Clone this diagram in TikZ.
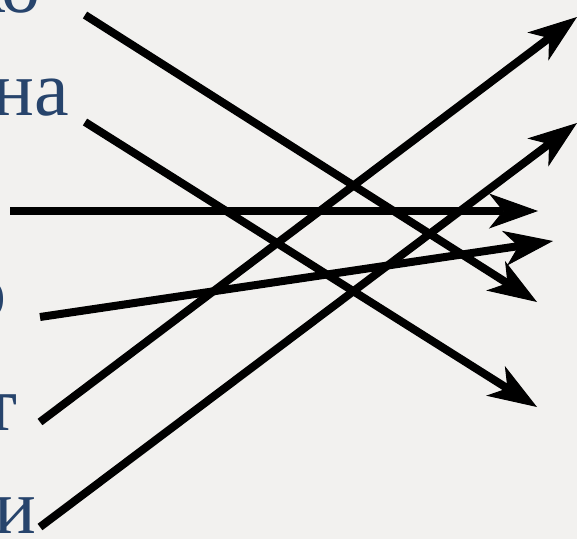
\documentclass[tikz,border=0pt]{standalone}
\usepackage{fontspec}
\setmainfont{Liberation Serif}
\usetikzlibrary{arrows.meta}
\definecolor{bg}{HTML}{F2F1EF}
\definecolor{txt}{HTML}{27446C}
\begin{document}
\begin{tikzpicture}[x=1pt,y=-1pt,
  lbl/.style={anchor=base east,inner sep=0pt,text=txt,font=\fontsize{78}{80}\selectfont},
  arr/.style={line width=8pt,-{Stealth[length=49pt,width=35pt,inset=14pt,line width=1pt]}}]
\useasboundingbox (0,0) rectangle (577,539);
\fill[bg] (0,0) rectangle (577,539);
\clip (0,0) rectangle (577,539);
\node[lbl] (t1) at (41,12) {ко};
\node[lbl] (t2) at (69,115) {на};
\node[lbl] (t3) at (7,317) {о};
\node[lbl] (t4) at (18,430) {т};
\node[lbl] (t5) at (36,533) {и};
\coordinate (s1) at (85,15);   \coordinate (e1) at (537,302);
\coordinate (s2) at (85,122);  \coordinate (e2) at (537,407);
\coordinate (s3) at (10,211);  \coordinate (e3) at (538,211);
\coordinate (s4) at (40,317);  \coordinate (e4) at (553,241);
\coordinate (s5) at (40,422);  \coordinate (e5) at (577,17);
\coordinate (s6) at (40,527);  \coordinate (e6) at (577,123);
\draw[arr] (s1) -- (e1);
\draw[arr] (s2) -- (e2);
\draw[arr] (s3) -- (e3);
\draw[arr] (s4) -- (e4);
\draw[arr] (s5) -- (e5);
\draw[arr] (s6) -- (e6);
\end{tikzpicture}
\end{document}
